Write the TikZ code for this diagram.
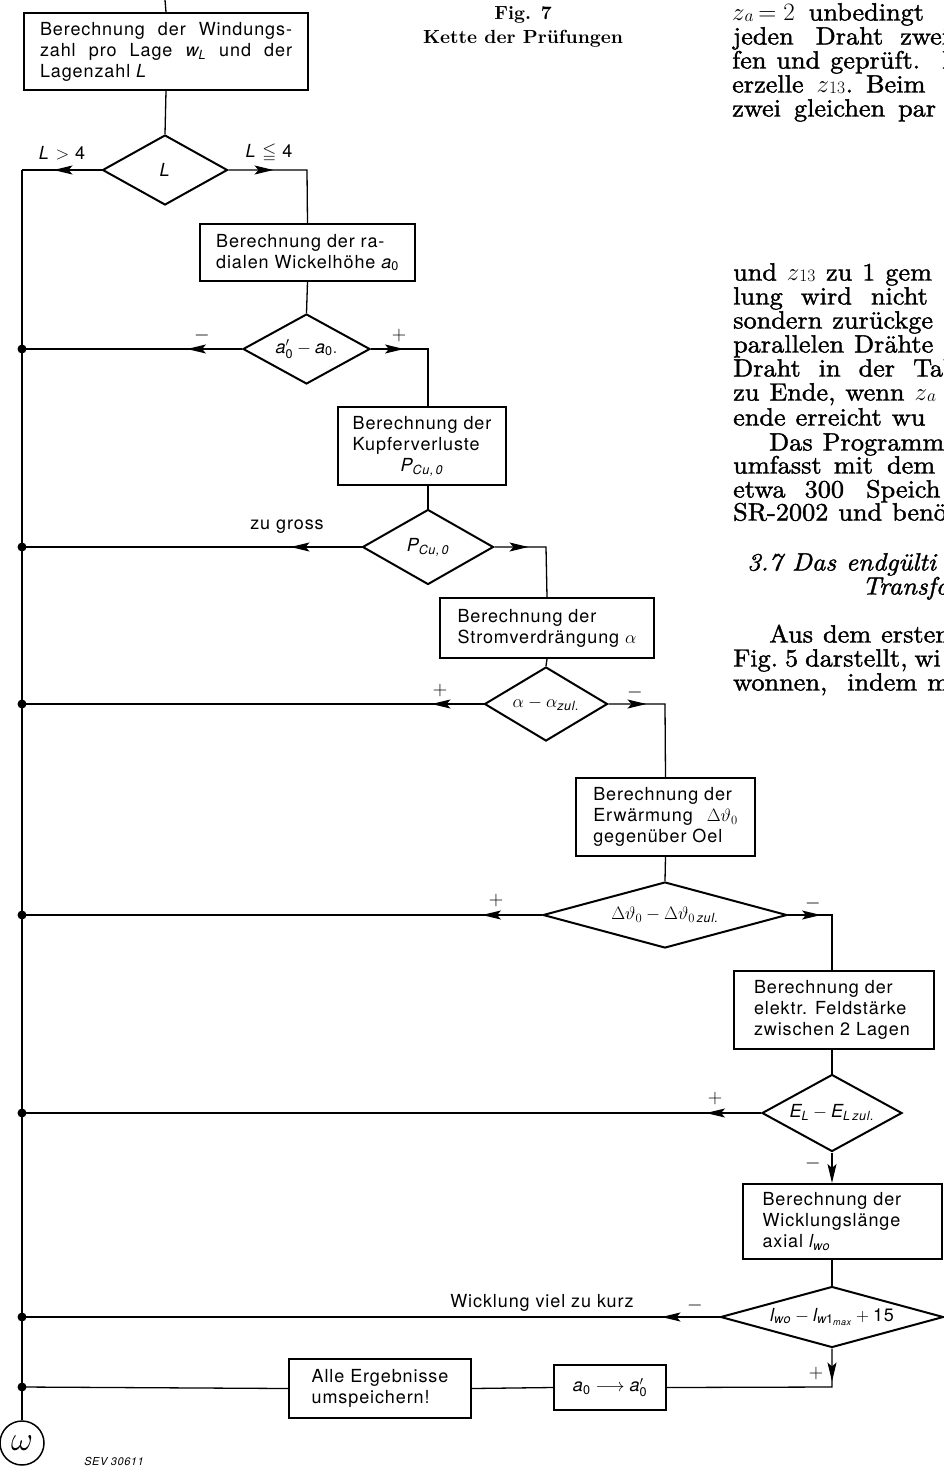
\RequirePackage{fix-cm}
\documentclass[tikz,border=0pt]{standalone}
\usepackage{amsmath,amssymb}
\usepackage{fontspec}
\usetikzlibrary{shapes.geometric,arrows.meta,decorations.markings}
\newfontfamily\hv{TeX Gyre Heros}[LetterSpace=5]
\newfontfamily\bodyf{lmroman10-regular.otf}[FakeBold=1.5,FakeStretch=1.05]
\newfontfamily\bodyit{lmroman10-italic.otf}[FakeBold=1.5,FakeStretch=1.05]
\newfontfamily\headf{lmroman10-bold.otf}
\newcommand\sansf{\hv\fontsize{18}{21}\selectfont}
\newcommand\bodysz{\bodyf\fontsize{25}{24}\selectfont\spaceskip=10pt\relax}
\newcommand\bodyisz{\bodyit\fontsize{25}{24}\selectfont\spaceskip=10pt\relax}
\newcommand\sv[1]{\textit{#1}}
\newcommand\tx[1]{\text{#1}}
\newcommand\zsub[1]{$z$\raisebox{3pt}{$_{#1}$}}
\begin{document}
\begin{tikzpicture}[x=1pt,y=-1pt,
 >={Stealth[length=19pt,width=9pt,inset=4pt]},
 box/.style={draw,line width=2pt,inner sep=0pt,anchor=north west,font=\sansf,align=left},
 dia/.style={draw,diamond,line width=2pt,inner sep=0pt},
 conn/.style={line width=1.3pt},
 arrowat/.style={postaction={decorate},decoration={markings,mark=at position #1 with {\arrow{>}}}},
 lab/.style={font=\sansf,inner sep=0pt},
 sgn/.style={font=\fontsize{20}{20}\selectfont,inner sep=0pt},
 body/.style={font=\bodysz,anchor=base west,inner sep=0pt},
 bodyi/.style={font=\bodyisz,anchor=base west,inner sep=0pt},
 dot/.style={circle,fill,inner sep=0pt,minimum size=9pt}
]
\useasboundingbox (0,0) rectangle (944,1468);
\fill[white] (0,0) rectangle (944,1468);
\clip (0,0) rectangle (944,1468);

% caption
\node[font=\headf\fontsize{19}{24}\selectfont,align=center,inner sep=0pt] (cap) at (523,27) {Fig. 7\\Kette der Prüfungen};

% body text column
\node[body] (t1) at (732,20.5) {\zsub{a}\,$= 2$\hspace{14pt}unbedingt};
\node[body] (t2) at (733,44.5) {jeden\hspace{22pt}Draht\hspace{17pt}zwei};
\node[body] (t3) at (732,68.5) {fen und geprüft.\hspace{22pt}D};
\node[body] (t4) at (732,92.5) {erzelle\hspace{13pt}\zsub{13}.\hspace{13pt}Beim};
\node[body] (t5) at (732,116.5) {zwei\hspace{13pt}gleichen\hspace{13pt}par};
\node[body] (t6) at (733,280.5) {und \zsub{13} zu 1 gem};
\node[body] (t7) at (733,304.5) {lung\hspace{18pt}wird\hspace{19pt}nicht};
\node[body] (t8) at (733,328.5) {sondern zurückge};
\node[body] (t9) at (733,352.5) {parallelen Drähte};
\node[body] (t10) at (733,376.5) {Draht\hspace{18pt}in\hspace{18pt}der\hspace{18pt}Tab};
\node[body] (t11) at (733,400.5) {zu Ende, wenn \zsub{a}};
\node[body] (t12) at (733,425.5) {ende erreicht wu};
\node[body] (t13) at (769,450.5) {Das Programm};
\node[body] (t14) at (733,473.5) {umfasst\hspace{12pt}mit\hspace{14pt}dem};
\node[body] (t15) at (733,497.5) {etwa\hspace{19pt}300\hspace{22pt}Speich};
\node[body] (t16) at (733,520.5) {SR-2002 und benö};
\node[bodyi] (t17) at (747,570.5) {3.7 Das endgülti};
\node[bodyi] (t18) at (862,594.5) {Transfo};
\node[body] (t19) at (769,642.5) {Aus dem ersten};
\node[body] (t20) at (733,666.5) {Fig.\hspace{7pt}5\hspace{7pt}darstellt,\hspace{7pt}wi};
\node[body] (t21) at (733,690.5) {wonnen,\hspace{20pt}indem m};

% boxes
\node[box,minimum width=284pt,minimum height=77pt] (b1) at (23,12)
 {\makebox[252pt][s]{Berechnung der Windungs-}\\\makebox[252pt][s]{zahl pro Lage $\sv{w}_{\sv{L}}$ und der}\\Lagenzahl \sv{L}};
\node[box,minimum width=215pt,minimum height=57pt] (b2) at (199,223)
 {Berechnung der ra-\\dialen Wickelhöhe $\sv{a}_{\tx{0}}$};
\node[box,minimum width=168pt,minimum height=78pt] (b3) at (337,406)
 {Berechnung der\\Kupferverluste\\\hspace*{48pt}$\sv{P}_{\sv{Cu,\,0}}$};
\node[box,minimum width=214pt,minimum height=60pt] (b4) at (439,597)
 {Berechnung der\\Stromverdrängung $\alpha$};
\node[box,minimum width=179pt,minimum height=78pt] (b5) at (575,777)
 {Berechnung der\\Erwärmung\hspace{14pt}$\Delta\vartheta_0$\\gegenüber Oel};
\node[box,minimum width=200pt,minimum height=78pt] (b6) at (733,970)
 {\makebox[160pt][l]{Berechnung der}\\elektr. Feldstärke\\zwischen 2 Lagen};
\node[box,minimum width=199pt,minimum height=75pt] (b7) at (742,1183)
 {\makebox[160pt][l]{Berechnung der}\\Wicklungslänge\\axial $\sv{l}_{\sv{wo}}$};
\node[box,minimum width=182pt,minimum height=59pt] (b8) at (288,1358)
 {Alle Ergebnisse\\umspeichern!};
\node[box,minimum width=112pt,minimum height=45pt,align=center] (b9) at (553,1364)
 {$\sv{a}_{\tx{0}}\longrightarrow\sv{a}'_{\tx{0}}$};

% decisions (outline) and their texts
\node[dia,minimum width=125pt,minimum height=70pt] (d1) at (165,170) {};
\node[dia,minimum width=127pt,minimum height=70pt] (d2) at (306.5,349) {};
\node[dia,minimum width=131pt,minimum height=75pt] (d3) at (428,547) {};
\node[dia,minimum width=123pt,minimum height=74pt] (d4) at (546,704) {};
\node[dia,minimum width=244pt,minimum height=66pt] (d5) at (665,915) {};
\node[dia,minimum width=140pt,minimum height=77pt] (d6) at (832,1113) {};
\node[dia,minimum width=223pt,minimum height=61pt] (d7) at (832,1317) {};
\node[lab] (d1t) at (d1) {\sv{L}};
\node[lab] (d2t) at (d2) {$\sv{a}'_{\tx{0}}-\sv{a}_{\tx{0}}.$};
\node[lab] (d3t) at (d3) {$\sv{P}_{\sv{Cu,\,0}}$};
\node[lab] (d4t) at (d4) {$\alpha-\alpha_{\sv{zul.}}$};
\node[lab] (d5t) at (d5) {$\Delta\vartheta_0-\Delta\vartheta_{0\,\sv{zul.}}$};
\node[lab] (d6t) at (d6) {$\sv{E}_{\sv{L}}-\sv{E}_{\sv{L\,zul.}}$};
\node[lab] (d7t) at (d7) {$\sv{l}_{\sv{wo}}-\sv{l}_{\sv{w}\tx{1}_{\sv{max}}}+\tx{15}$};

% end connector
\node[draw,circle,line width=1.5pt,minimum size=44pt,inner sep=0pt,font=\fontsize{34}{34}\selectfont] (om) at (22,1443) {$\omega$};
\node[font=\hv\itshape\fontsize{11}{11}\selectfont,inner sep=0pt] (sev) at (114,1461) {SEV 30611};

% junction coordinates
\coordinate (top) at (165,0);
\coordinate (j1) at (22,170);
\coordinate (j2) at (22,349);
\coordinate (j3) at (22,547);
\coordinate (j4) at (22,704);
\coordinate (j5) at (22,915);
\coordinate (j6) at (22,1113);
\coordinate (j7) at (22,1317);
\coordinate (j8) at (22,1387);
\coordinate (c1) at (307,170);
\coordinate (c2) at (428,349);
\coordinate (c3) at (546,547);
\coordinate (c4) at (665,704);
\coordinate (c5) at (832,915);
\coordinate (c7) at (832,1387);

% connectors
\draw[conn] (top) -- (b1.north);
\draw[conn] (b1.south) -- (d1.north);
\draw[conn,arrowat=48pt] (d1.west) -- (j1);
\draw[conn] (j1) -- (om.north);
\draw[conn,arrowat=45pt] (d1.east) -- (c1) -- (b2.north);
\draw[conn] (b2.south) -- (d2.north);
\draw[conn,arrowat=55pt] (d2.west) -- (j2);
\draw[conn,arrowat=33pt] (d2.east) -- (c2) -- (c2 |- b3.north);
\draw[conn] (c2 |- b3.south) -- (d3.north);
\draw[conn,arrowat=71pt] (d3.west) -- (j3);
\draw[conn,arrowat=34pt] (d3.east) -- (c3) -- (b4.north);
\draw[conn] (b4.south) -- (d4.north);
\draw[conn,arrowat=52pt] (d4.west) -- (j4);
\draw[conn,arrowat=38pt] (d4.east) -- (c4) -- (b5.north);
\draw[conn] (b5.south) -- (d5.north);
\draw[conn,arrowat=60pt] (d5.west) -- (j5);
\draw[conn,arrowat=33pt] (d5.east) -- (c5) -- (c5 |- b6.north);
\draw[conn] (c5 |- b6.south) -- (d6.north);
\draw[conn,arrowat=55pt] (d6.west) -- (j6);
\draw[conn,->] (d6.south) -- (d6.south |- b7.north);
\draw[conn] (d7.north |- b7.south) -- (d7.north);
\draw[conn,arrowat=58pt] (d7.west) -- (j7);
\draw[conn,arrowat=33pt] (d7.south) -- (c7) -- (b9.east);
\draw[conn] (b9.west) -- (b8.east);
\draw[conn] (b8.west) -- (j8);
\foreach \j in {j2,j3,j4,j5,j6,j7,j8} \node[dot] at (\j) {};

% branch labels
\node[lab] (l1) at (62,153) {\sv{L} $>$ 4};
\node[lab] (l2) at (269,153) {\sv{L} $\leqq$ 4};
\node[sgn] (s1) at (202,335) {$-$};
\node[sgn] (s2) at (399,335) {$+$};
\node[lab] (l3) at (287,527) {zu gross};
\node[sgn] (s3) at (440,690) {$+$};
\node[sgn] (s4) at (635,692) {$-$};
\node[sgn] (s5) at (496,900) {$+$};
\node[sgn] (s6) at (813,903) {$-$};
\node[sgn] (s7) at (715,1098) {$+$};
\node[sgn] (s8) at (813,1163) {$-$};
\node[sgn] (s9) at (695,1305) {$-$};
\node[lab] (l4) at (542,1303) {Wicklung viel zu kurz};
\node[sgn] (s10) at (816,1373) {$+$};
\end{tikzpicture}
\end{document}
